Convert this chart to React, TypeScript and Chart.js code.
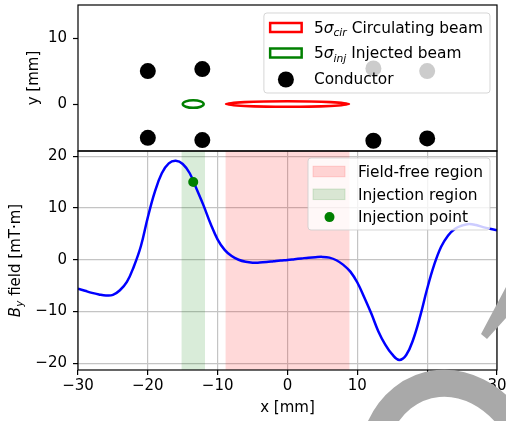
import { useEffect, useRef } from "react";
import { Chart, registerables } from "chart.js";

Chart.register(...registerables);

const FONT = '"DejaVu Sans", "Liberation Sans", sans-serif';

// ---------- data ----------
const xTicks = [-30, -20, -10, 0, 10, 20, 30];
const topYTicks = [0, 10];
const bottomYTicks = [-20, -10, 0, 10, 20];
const xMin = -30;
const xMax = 30;
const topYMin = -7.1;
const topYMax = 15;
const bottomYMin = -21.3;
const bottomYMax = 21.0;

const conductorX = [-20, -12.2, 12.3, 20, -20, -12.2, 12.3, 20];
const conductorY = [5.0, 5.3, 5.4, 5.0, -5.1, -5.45, -5.55, -5.2];
const conductorLabel = "Conductor";

const beamLabels = ["Circulating beam", "Injected beam"];
const beamSubscripts = ["cir", "inj"];
const beamCenterX = [0, -13.5];
const beamCenterY = [0, 0];
const beamHalfWidth = [8.8, 1.5];
const beamHalfHeight = [0.42, 0.57];
const beamColors = ["#ff0000", "#008000"];

const xField = [
  -30, -29, -28, -27, -26, -25, -24, -23, -22, -21, -20, -19, -18, -17, -16, -15,
  -14, -13, -12, -11, -10, -9, -8, -7, -6, -5, -4, -3, -2, -1, 0, 1, 2, 3, 4, 5,
  6, 7, 8, 9, 10, 11, 12, 13, 14, 15, 16, 17, 18, 19, 20, 21, 22, 23, 24, 25, 26,
  27, 28, 29, 30,
];
const byField = [
  -5.6, -6.0, -6.4, -6.7, -6.9, -6.8, -5.9, -4.3, -1.3, 2.6, 8.2, 13.1, 16.7, 18.6,
  19.1, 18.5, 16.7, 13.6, 10.4, 6.9, 3.9, 1.9, 0.7, 0.0, -0.4, -0.58, -0.55, -0.45,
  -0.3, -0.15, -0.05, 0.1, 0.25, 0.4, 0.5, 0.55, 0.4, -0.1, -1.0, -2.3, -4.4, -7.3,
  -10.4, -13.8, -16.4, -18.3, -19.35, -18.4, -15.4, -10.9, -5.6, -1.0, 2.5, 4.7,
  6.0, 6.6, 6.9, 6.7, 6.3, 6.0, 5.7,
];

const fieldFreeRegion = [-8.9, 8.9];
const injectionRegion = [-15.2, -11.8];
const injectionPointX = [-13.5];
const injectionPointY = [15.0];
const regionLabels = ["Field-free region", "Injection region", "Injection point"];

const fieldFreeColor = "rgba(255,0,0,0.15)";
const injectionColor = "rgba(0,128,0,0.15)";

// ---------- helpers ----------
const fmt = (v: number) => (v < 0 ? "\u2212" + Math.abs(v) : String(v));

type Seg = { t: string; italic?: boolean; sub?: boolean };

function segFont(s: Seg, size: number) {
  const fs = s.sub ? size * 0.7 : size;
  return `${s.italic ? "italic " : ""}${fs}px ${FONT}`;
}
function measureRich(ctx: CanvasRenderingContext2D, segs: Seg[], size: number) {
  let w = 0;
  for (const s of segs) {
    ctx.font = segFont(s, size);
    w += ctx.measureText(s.t).width;
  }
  return w;
}
function drawRich(ctx: CanvasRenderingContext2D, segs: Seg[], x: number, y: number, size: number) {
  let cx = x;
  ctx.textBaseline = "alphabetic";
  ctx.textAlign = "left";
  for (const s of segs) {
    ctx.font = segFont(s, size);
    ctx.fillText(s.t, cx, y + (s.sub ? size * 0.23 : 0));
    cx += ctx.measureText(s.t).width;
  }
}
function legendFrame(ctx: CanvasRenderingContext2D, x: number, y: number, w: number, h: number) {
  const r = 3;
  ctx.save();
  ctx.beginPath();
  ctx.moveTo(x + r, y);
  ctx.arcTo(x + w, y, x + w, y + h, r);
  ctx.arcTo(x + w, y + h, x, y + h, r);
  ctx.arcTo(x, y + h, x, y, r);
  ctx.arcTo(x, y, x + w, y, r);
  ctx.closePath();
  ctx.fillStyle = "rgba(255,255,255,0.8)";
  ctx.fill();
  ctx.strokeStyle = "rgba(204,204,204,0.8)";
  ctx.lineWidth = 1;
  ctx.stroke();
  ctx.restore();
}
function spines(chart: any) {
  const { ctx, chartArea: a } = chart;
  ctx.save();
  ctx.strokeStyle = "#000";
  ctx.lineWidth = 1.2;
  ctx.strokeRect(a.left, a.top, a.right - a.left, a.bottom - a.top);
  ctx.restore();
}
const noPad = (s: any) => {
  s.paddingTop = 0;
  s.paddingBottom = 0;
  s.paddingLeft = 0;
  s.paddingRight = 0;
};

const FS = 15;
const LFS = 15.4;

// ---------- top panel plugin ----------
const topDecor = {
  id: "topDecor",
  afterDatasetsDraw(chart: any) {
    const { ctx, chartArea: a, scales } = chart;
    const x = scales.x;
    const y = scales.y;
    ctx.save();
    ctx.beginPath();
    ctx.rect(a.left, a.top, a.right - a.left, a.bottom - a.top);
    ctx.clip();
    beamCenterX.forEach((cx, i) => {
      const px = x.getPixelForValue(cx);
      const py = y.getPixelForValue(beamCenterY[i]);
      const rx = Math.abs(x.getPixelForValue(cx + beamHalfWidth[i]) - px);
      const ry = Math.abs(y.getPixelForValue(beamCenterY[i] + beamHalfHeight[i]) - py);
      ctx.beginPath();
      ctx.ellipse(px, py, rx, ry, 0, 0, Math.PI * 2);
      ctx.lineWidth = 2.5;
      ctx.strokeStyle = beamColors[i];
      ctx.stroke();
    });
    ctx.restore();
    spines(chart);
  },
  afterDraw(chart: any) {
    const { ctx, chartArea: a } = chart;
    ctx.save();
    const rows: Seg[][] = [
      ...beamLabels.map((lab, i) => [
        { t: "5" },
        { t: "\u03c3", italic: true },
        { t: beamSubscripts[i], italic: true, sub: true },
        { t: " " + lab },
      ]),
      [{ t: conductorLabel }],
    ];
    const maxW = Math.max(...rows.map((r) => measureRich(ctx, r, LFS)));
    const boxRight = a.right - 7;
    const boxTop = a.top + 8;
    const w = maxW + 57;
    const boxLeft = boxRight - w;
    legendFrame(ctx, boxLeft, boxTop, w, 80);
    rows.forEach((r, i) => {
      const c = boxTop + 14.5 + i * 25.5;
      if (i < beamLabels.length) {
        ctx.strokeStyle = beamColors[i];
        ctx.lineWidth = 2.5;
        ctx.strokeRect(boxLeft + 6.25, c - 4.5, 31.5, 9);
      } else {
        ctx.beginPath();
        ctx.arc(boxLeft + 22, c + 1, 8, 0, Math.PI * 2);
        ctx.fillStyle = "#000";
        ctx.fill();
      }
      ctx.fillStyle = "#000";
      drawRich(ctx, r, boxLeft + 50, c + 5.3, LFS);
    });
    // y title
    ctx.translate(38, (a.top + a.bottom) / 2);
    ctx.rotate(-Math.PI / 2);
    ctx.font = `${FS}px ${FONT}`;
    ctx.textAlign = "center";
    ctx.textBaseline = "alphabetic";
    ctx.fillStyle = "#000";
    ctx.fillText("y [mm]", 0, 0);
    ctx.restore();
  },
};

// ---------- bottom panel plugin ----------
const bottomDecor = {
  id: "bottomDecor",
  afterDatasetsDraw(chart: any) {
    spines(chart);
  },
  afterDraw(chart: any) {
    const { ctx, chartArea: a } = chart;
    ctx.save();
    const rows: Seg[][] = regionLabels.map((l) => [{ t: l }]);
    const maxW = Math.max(...rows.map((r) => measureRich(ctx, r, LFS)));
    const boxRight = a.right - 7;
    const boxTop = a.top + 7;
    const w = maxW + 57;
    const boxLeft = boxRight - w;
    legendFrame(ctx, boxLeft, boxTop, w, 72);
    const patchColors = [fieldFreeColor, injectionColor];
    rows.forEach((r, i) => {
      const c = boxTop + 13.5 + i * 22.8;
      if (i < 2) {
        ctx.fillStyle = patchColors[i];
        ctx.fillRect(boxLeft + 5, c - 5.3, 32, 10.6);
        ctx.strokeStyle = patchColors[i];
        ctx.lineWidth = 1;
        ctx.strokeRect(boxLeft + 5, c - 5.3, 32, 10.6);
      } else {
        ctx.beginPath();
        ctx.arc(boxLeft + 21.5, c, 5, 0, Math.PI * 2);
        ctx.fillStyle = "#008000";
        ctx.fill();
      }
      ctx.fillStyle = "#000";
      drawRich(ctx, r, boxLeft + 50, c + 5.3, LFS);
    });
    ctx.restore();

    // y title with subscript
    ctx.save();
    const ySegs: Seg[] = [
      { t: "B", italic: true },
      { t: "y", italic: true, sub: true },
      { t: " field [mT\u00b7m]" },
    ];
    const tw = measureRich(ctx, ySegs, FS);
    ctx.translate(19.5, (a.top + a.bottom) / 2);
    ctx.rotate(-Math.PI / 2);
    ctx.fillStyle = "#000";
    drawRich(ctx, ySegs, -tw / 2, 0, FS);
    ctx.restore();

    // x title
    ctx.save();
    ctx.font = `${FS}px ${FONT}`;
    ctx.textAlign = "center";
    ctx.textBaseline = "alphabetic";
    ctx.fillStyle = "#000";
    ctx.fillText("x [mm]", (a.left + a.right) / 2, 411.5);
    ctx.restore();

    // gray overlay shape
    ctx.save();
    ctx.fillStyle = "#a9a9a9";
    ctx.strokeStyle = "#a9a9a9";
    ctx.lineWidth = 27;
    ctx.beginPath();
    ctx.moveTo(378, 432);
    ctx.bezierCurveTo(400, 375, 470, 362, 515, 425);
    ctx.stroke();
    ctx.beginPath();
    ctx.moveTo(481, 334);
    ctx.lineTo(506, 287);
    ctx.lineTo(506, 318);
    ctx.lineTo(487, 339);
    ctx.closePath();
    ctx.fill();
    ctx.restore();
  },
};

const tickFont = { family: FONT, size: FS };

export default function App() {
  const topRef = useRef<HTMLCanvasElement>(null);
  const botRef = useRef<HTMLCanvasElement>(null);

  useEffect(() => {
    Chart.defaults.font.family = FONT;
    const top = new Chart(topRef.current as HTMLCanvasElement, {
      type: "scatter",
      data: {
        datasets: [
          {
            label: conductorLabel,
            data: conductorX.map((x, i) => ({ x, y: conductorY[i] })),
            backgroundColor: "#000",
            borderWidth: 0,
            pointRadius: 8,
            pointHoverRadius: 8,
          },
        ],
      },
      options: {
        animation: false,
        responsive: false,
        devicePixelRatio: 1,
        events: [],
        layout: { autoPadding: false, padding: { top: 5, right: 9, bottom: 5, left: 0 } },
        plugins: { legend: { display: false }, tooltip: { enabled: false } },
        scales: {
          x: { type: "linear", min: xMin, max: xMax, display: false },
          y: {
            type: "linear",
            min: topYMin,
            max: topYMax,
            afterBuildTicks: (s: any) => {
              s.ticks = topYTicks.map((v) => ({ value: v }));
            },
            afterFit: (s: any) => {
              s.width = 78;
              noPad(s);
            },
            border: { display: false },
            grid: {
              drawOnChartArea: false,
              drawTicks: true,
              tickLength: 5,
              tickColor: "#000",
              tickWidth: 1.2,
            },
            ticks: {
              font: tickFont,
              color: "#000",
              padding: 6,
              callback: (v: any) => fmt(Number(v)),
            },
          },
        },
      },
      plugins: [topDecor],
    } as any);

    const bot = new Chart(botRef.current as HTMLCanvasElement, {
      type: "line",
      data: {
        datasets: [
          {
            type: "scatter",
            label: regionLabels[2],
            data: injectionPointX.map((x, i) => ({ x, y: injectionPointY[i] })),
            backgroundColor: "#008000",
            borderWidth: 0,
            pointRadius: 5,
            order: 1,
          },
          {
            label: "By",
            data: xField.map((x, i) => ({ x, y: byField[i] })),
            borderColor: "#0000ff",
            borderWidth: 2.5,
            pointRadius: 0,
            tension: 0.4,
            fill: false,
            order: 2,
          },
          {
            label: regionLabels[0],
            data: fieldFreeRegion.map((x) => ({ x, y: bottomYMax })),
            backgroundColor: fieldFreeColor,
            borderWidth: 0,
            pointRadius: 0,
            fill: "start",
            order: 3,
          },
          {
            label: regionLabels[1],
            data: injectionRegion.map((x) => ({ x, y: bottomYMax })),
            backgroundColor: injectionColor,
            borderWidth: 0,
            pointRadius: 0,
            fill: "start",
            order: 4,
          },
        ],
      },
      options: {
        animation: false,
        responsive: false,
        devicePixelRatio: 1,
        events: [],
        layout: { autoPadding: false, padding: { top: 151, right: 9, bottom: 0, left: 0 } },
        plugins: { legend: { display: false }, tooltip: { enabled: false } },
        scales: {
          x: {
            type: "linear",
            min: xMin,
            max: xMax,
            afterBuildTicks: (s: any) => {
              s.ticks = xTicks.map((v) => ({ value: v }));
            },
            afterFit: (s: any) => {
              s.height = 51;
              noPad(s);
            },
            border: { display: false },
            grid: {
              color: "#c4c4c4",
              lineWidth: 1.2,
              drawTicks: true,
              tickLength: 5,
              tickColor: "#000",
              tickWidth: 1.2,
            },
            ticks: {
              font: tickFont,
              color: "#000",
              padding: 2,
              autoSkip: false,
              maxRotation: 0,
              callback: (v: any) => fmt(Number(v)),
            },
          },
          y: {
            type: "linear",
            min: bottomYMin,
            max: bottomYMax,
            afterBuildTicks: (s: any) => {
              s.ticks = bottomYTicks.map((v) => ({ value: v }));
            },
            afterFit: (s: any) => {
              s.width = 78;
              noPad(s);
            },
            border: { display: false },
            grid: {
              color: "#c4c4c4",
              lineWidth: 1.2,
              drawTicks: true,
              tickLength: 5,
              tickColor: "#000",
              tickWidth: 1.2,
            },
            ticks: {
              font: tickFont,
              color: "#000",
              padding: 6,
              callback: (v: any) => fmt(Number(v)),
            },
          },
        },
      },
      plugins: [bottomDecor],
    } as any);

    return () => {
      top.destroy();
      bot.destroy();
    };
  }, []);

  return (
    <div
      style={{
        position: "absolute",
        left: 0,
        top: 0,
        width: 506,
        height: 421,
        background: "#fff",
        overflow: "hidden",
      }}
    >
      <canvas
        ref={botRef}
        width={506}
        height={421}
        style={{ position: "absolute", left: 0, top: 0 }}
      />
      <canvas
        ref={topRef}
        width={506}
        height={156}
        style={{ position: "absolute", left: 0, top: 0 }}
      />
    </div>
  );
}
